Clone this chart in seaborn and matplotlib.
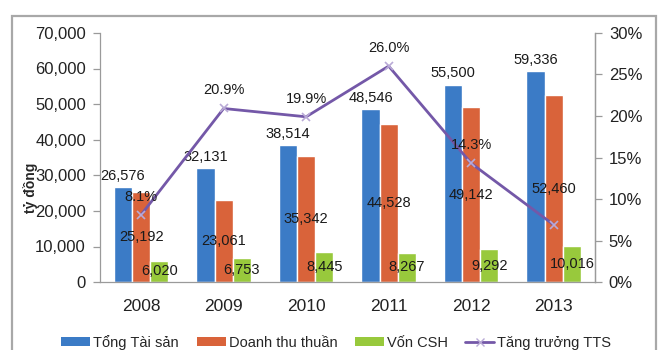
import matplotlib
matplotlib.use("Agg")
import matplotlib.pyplot as plt
import matplotlib.patches as mpatches
from matplotlib.lines import Line2D
from matplotlib.ticker import FuncFormatter, FixedLocator
import seaborn as sns
import pandas as pd

years = ["2008", "2009", "2010", "2011", "2012", "2013"]
tong_tai_san = [26576, 32131, 38514, 48546, 55500, 59336]
doanh_thu_thuan = [25192, 23061, 35342, 44528, 49142, 52460]
von_csh = [6020, 6753, 8445, 8267, 9292, 10016]
tang_truong = [8.1, 20.9, 19.9, 26.0, 14.3, 6.9]
# the last growth point carries no label on the chart
tang_truong_labels = ["8.1%", "20.9%", "19.9%", "26.0%", "14.3%", ""]

series_names = ["Tổng Tài sản", "Doanh thu thuần", "Vốn CSH"]
line_name = "Tăng trưởng TTS"
colors = ["#3B7BC6", "#D9633A", "#98C93C"]
line_color = "#7458A8"

sns.set_style("white")
plt.rcParams["font.family"] = ["Liberation Sans", "DejaVu Sans"]

df = pd.DataFrame({
    "year": years * 3,
    "value": tong_tai_san + doanh_thu_thuan + von_csh,
    "series": [s for s in series_names for _ in years],
})

fig = plt.figure(figsize=(6.7, 3.5), dpi=100)
ax = fig.add_axes([0.149, 0.194, 0.739, 0.712])

sns.barplot(data=df, x="year", y="value", hue="series", hue_order=series_names,
            palette=colors, width=0.66, gap=0, saturation=1, ax=ax,
            legend=False, errorbar=None)

ax.set_ylim(0, 70000)
ax.set_yticks(range(0, 70001, 10000))
ax.yaxis.set_major_formatter(FuncFormatter(lambda v, p: f"{v:,.0f}"))
ax.set_xlim(-0.5, 5.5)
ax.set_xlabel("")
ax.set_ylabel("tỷ đồng", fontsize=10, fontweight="bold")
ax.yaxis.set_label_coords(-0.124, 0.38)

# value labels: totals above the bars, the others centred inside
fmt = lambda v: f"{v:,.0f}"
ax.bar_label(ax.containers[0], labels=[fmt(v) for v in tong_tai_san],
             label_type="edge", padding=3, fontsize=10.5, color="#1a1a1a")
ax.bar_label(ax.containers[1], labels=[fmt(v) for v in doanh_thu_thuan],
             label_type="center", fontsize=10.5, color="#1a1a1a")
ax.bar_label(ax.containers[2], labels=[fmt(v) for v in von_csh],
             label_type="center", fontsize=10.5, color="#1a1a1a")

ax.spines["top"].set_visible(False)
for side in ["left", "bottom", "right"]:
    ax.spines[side].set_color("#9a9a9a")
    ax.spines[side].set_linewidth(0.9)

ax.tick_params(axis="y", direction="out", length=5, width=0.9, color="#9a9a9a",
               labelsize=12, pad=5, labelcolor="#222222")
ax.tick_params(axis="x", which="major", length=0, labelsize=12.5, pad=12,
               labelcolor="#222222")
ax.xaxis.set_minor_locator(FixedLocator([i - 0.5 for i in range(len(years) + 1)]))
ax.tick_params(axis="x", which="minor", direction="out", length=5, width=0.9,
               color="#9a9a9a")

# growth line on the secondary axis
ax2 = ax.twinx()
sns.pointplot(x=years, y=tang_truong, ax=ax2, color=line_color, markers="x",
              linewidth=2, markersize=6, markeredgecolor="#b9aad6",
              markeredgewidth=1.2)
ax2.set_xlim(-0.5, 5.5)
ax2.set_ylim(0, 30)
ax2.set_yticks(range(0, 31, 5))
ax2.yaxis.set_major_formatter(FuncFormatter(lambda v, p: f"{v:.0f}%"))
ax2.set_ylabel("")
for side in ["top", "left", "bottom"]:
    ax2.spines[side].set_visible(False)
ax2.spines["right"].set_color("#9a9a9a")
ax2.spines["right"].set_linewidth(0.9)
ax2.tick_params(axis="y", direction="out", length=5, width=0.9, color="#9a9a9a",
                labelsize=12, pad=5, labelcolor="#222222")

for i, (v, lab) in enumerate(zip(tang_truong, tang_truong_labels)):
    if lab:
        ax2.annotate(lab, (i, v), xytext=(0, 13), textcoords="offset points",
                     ha="center", va="center", fontsize=10.5, color="#1a1a1a")

# legend along the bottom edge
handles = [mpatches.Patch(facecolor=c, edgecolor="none") for c in colors]
handles.append(Line2D([], [], color=line_color, lw=2, marker="x",
                      markeredgecolor="#b9aad6", markersize=6))
fig.legend(handles, series_names + [line_name], loc="center",
           bbox_to_anchor=(0.502, 0.022), ncol=4, frameon=False, fontsize=10.5,
           handlelength=2.0, handleheight=0.6, handletextpad=0.2,
           columnspacing=1.2)

# outer chart frame
frame = mpatches.Rectangle((12 / 670, -0.05), (656 - 12) / 670, 1.05 - 16 / 350,
                           transform=fig.transFigure, fill=False,
                           edgecolor="#a8a8a8", linewidth=1.6, clip_on=False)
fig.patches.append(frame)

fig.savefig("out.png", dpi=100)
